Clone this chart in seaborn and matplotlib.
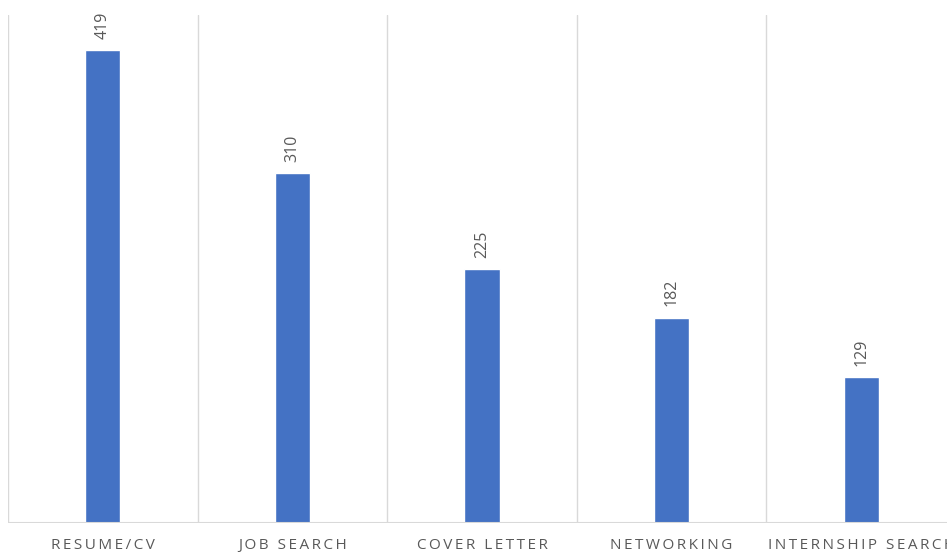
import matplotlib
matplotlib.use("Agg")
import matplotlib.pyplot as plt
import seaborn as sns
import pandas as pd

categories = ["RESUME/CV", "JOB SEARCH", "COVER LETTER", "NETWORKING", "INTERNSHIP SEARCH"]
values = [419, 310, 225, 182, 129]

sns.set_theme(style="white")
plt.rcParams['font.family'] = ['Open Sans', 'DejaVu Sans']

df = pd.DataFrame({"category": categories, "value": values})

fig = plt.figure(figsize=(9.47, 5.56), dpi=100)
ax = fig.add_axes([8/947, 1-523/556, 948/947, (523-15)/556])

sns.barplot(data=df, x="category", y="value", color="#4472C4", width=0.185,
            saturation=1, ax=ax)

ax.set_xlim(-0.5, 4.5)
ax.set_ylim(0, 450)
for s in ax.spines.values():
    s.set_visible(False)
for xv in [i - 0.5 for i in range(len(categories) + 1)]:
    ax.axvline(xv, color="#d9d9d9", lw=1, zorder=0)
ax.axhline(0, color="#d9d9d9", lw=1.5, zorder=3)

ax.set_yticks([])
ax.set_xlabel("")
ax.set_ylabel("")

def spaced(s):
    return "\u2009".join(list(s))

ax.set_xticks(range(len(categories)))
ax.set_xticklabels([spaced(c) for c in categories], fontsize=11, color="#595959")
ax.tick_params(axis="x", length=0, pad=11)

ax.bar_label(ax.containers[0], labels=[str(v) for v in values], rotation=90,
             padding=8, fontsize=11.5, color="#595959")

fig.savefig("out.png", dpi=100)
